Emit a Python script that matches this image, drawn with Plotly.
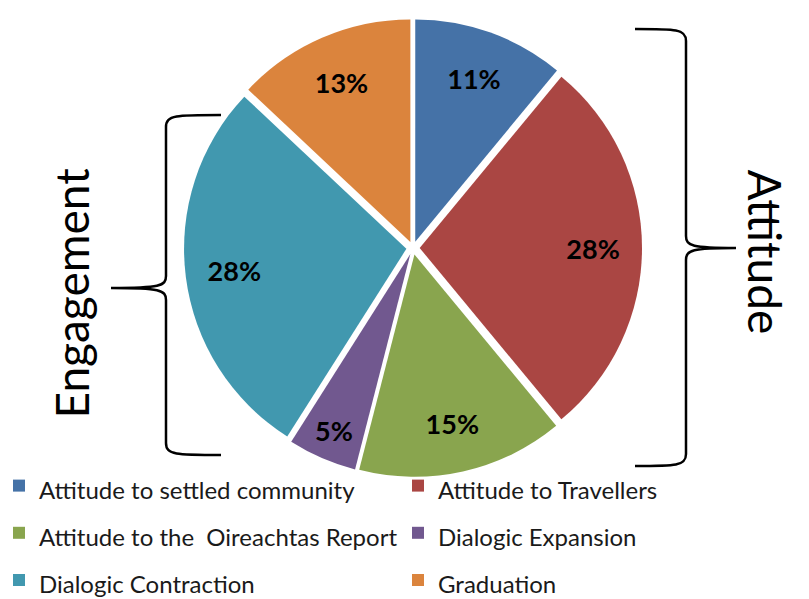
import plotly.graph_objects as go

W, H = 809, 599

labels = ["Attitude to settled community", "Attitude to Travellers",
          "Attitude to the  Oireachtas Report", "Dialogic Expansion",
          "Dialogic Contraction", "Graduation"]
values = [11, 28, 15, 5, 28, 13]
colors = ["#4572A7", "#AA4643", "#89A54E", "#71588F", "#4198AF", "#DB843D"]
group_left = "Engagement"
group_right = "Attitude"


def X(px):
    return px / W


def Y(py):
    return 1 - py / H


legend_labels = ['<span style="font-size:24px">%s</span>' % l.replace("  ", "&nbsp; ") for l in labels]
pie_domain = dict(x=[X(176), X(634)], y=[Y(469), Y(11)])
pulls = [0.03] * len(values)

fig = go.Figure()
# coloured slices + legend
fig.add_trace(go.Pie(
    labels=legend_labels,
    values=values,
    sort=False,
    direction="clockwise",
    rotation=0,
    pull=pulls,
    marker=dict(colors=colors, line=dict(color="white", width=0)),
    textinfo="none",
    domain=pie_domain,
    hoverinfo="label+percent",
))
# transparent ring carrying the percentage labels in the outer part of each slice
fig.add_trace(go.Pie(
    labels=legend_labels,
    values=values,
    sort=False,
    direction="clockwise",
    rotation=0,
    pull=pulls,
    hole=0.56,
    marker=dict(colors=["rgba(0,0,0,0)"] * len(values), line=dict(width=0)),
    texttemplate="<b>%{percent:.0%}</b>",
    textposition="inside",
    insidetextorientation="horizontal",
    textfont=dict(family="Lato", size=27, color="black"),
    domain=pie_domain,
    showlegend=False,
    hoverinfo="skip",
))


def brace(x_end, x_vert, x_tip, y_top, y_mid, y_bot):
    def p(x, y):
        return "%.5f,%.5f" % (X(x), Y(y))
    r = 12
    s = 1 if x_tip > x_vert else -1
    d = ("M " + p(x_end, y_top) +
         " C " + p(x_vert - s * 10, y_top) + " " + p(x_vert, y_top) + " " + p(x_vert, y_top + r) +
         " L " + p(x_vert, y_mid - r) +
         " C " + p(x_vert, y_mid - 2) + " " + p(x_vert + s * 6, y_mid) + " " + p(x_tip, y_mid) +
         " C " + p(x_vert + s * 6, y_mid) + " " + p(x_vert, y_mid + 2) + " " + p(x_vert, y_mid + r) +
         " L " + p(x_vert, y_bot - r) +
         " C " + p(x_vert, y_bot) + " " + p(x_vert - s * 10, y_bot) + " " + p(x_end, y_bot))
    return d


shapes = [
    dict(type="path", xref="paper", yref="paper",
         path=brace(627, 678, 728, 21, 240, 458),
         line=dict(color="black", width=2.5)),
    dict(type="path", xref="paper", yref="paper",
         path=brace(213, 158, 103, 107, 280, 447),
         line=dict(color="black", width=2.5)),
]

annotations = [
    dict(text=group_left, x=X(33), y=Y(285), xref="paper", yref="paper",
         showarrow=False, textangle=-90, font=dict(family="Lato", size=46, color="black")),
    dict(text=group_right, x=X(786), y=Y(244), xref="paper", yref="paper",
         showarrow=False, textangle=90, font=dict(family="Lato", size=46, color="black")),
]

fig.update_layout(
    width=W, height=H,
    margin=dict(l=0, r=0, t=0, b=0, autoexpand=False),
    paper_bgcolor="white",
    plot_bgcolor="white",
    shapes=shapes,
    annotations=annotations,
    showlegend=True,
    uniformtext=dict(minsize=27, mode="show"),
    legend=dict(orientation="h", x=X(789), xanchor="right", y=Y(449), yanchor="top",
                entrywidth=354, entrywidthmode="pixels",
                bgcolor="rgba(0,0,0,0)",
                font=dict(family="Lato", size=34, color="#1a1a1a"),
                itemwidth=30, traceorder="normal"),
)

fig.write_html("out.html")
